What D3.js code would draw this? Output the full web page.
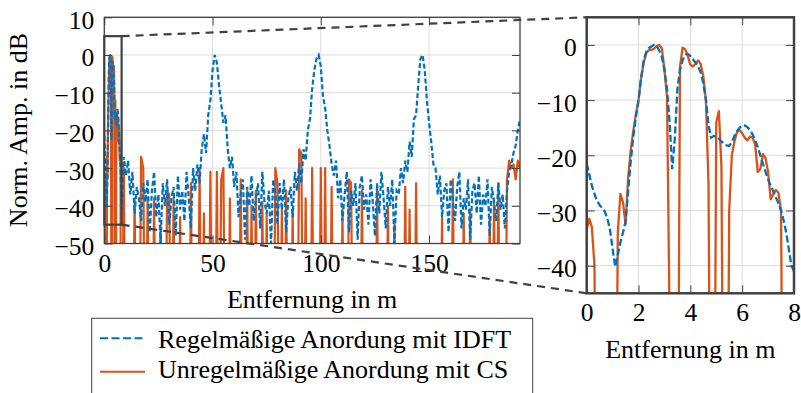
<!DOCTYPE html>
<html>
<head>
<meta charset="utf-8">
<title>Entfernungsprofil</title>
<script src="https://cdn.jsdelivr.net/npm/d3@7"></script>
<style>
  body { margin: 0; background: #fff; }
  svg text { font-family: "Liberation Serif", serif; }
</style>
</head>
<body>
<script>
// Detailansicht 0..8 m, Abtastung 0,1 m
var zoomDist = d3.range(81).map(function(i) { return i / 10; });
var zoomIdft = [
  -21.5, -23.5, -25.5, -27, -28.3, -29, -29.6, -30.2, -31.5, -33.5,
  -37, -40.2, -38, -35.8, -34, -32, -26.5, -21, -16.5, -13,
  -10, -6, -2.8, -1.2, -0.6, -0.3, 0, -0.2, -1, -2.2,
  -4.5, -8, -14, -22.5, -17, -8, -4.5, -2.8, -1.8, -1.6,
  -2, -2.6, -3.2, -3.9, -5, -7, -10, -14.5, -16.8, -16.5,
  -16.6, -17, -17.5, -17.9, -18.2, -18.3, -17.6, -16.5, -15.6, -15,
  -14.6, -14.6, -14.9, -15.4, -16.2, -17.2, -18.5, -20, -21.5, -23,
  -24.4, -25.5, -26.5, -27.6, -28.7, -30, -31.8, -34, -37, -40,
  -41
];
// -100 = Amplitude null (unterhalb der Achse)
var zoomCs = [
  -33.5, -31.5, -33, -40, -100, -100, -100, -100, -100, -100,
  -100, -100, -34, -27, -28.5, -32.5, -24, -19, -15.5, -12.5,
  -10, -6, -3.2, -1.5, -0.9, -0.9, -0.7, -0.2, 0, -0.6,
  -4.5, -9.5, -50, -100, -100, -100, -4, -0.5, -0.8, -2,
  -3.6, -3.9, -3.4, -2.8, -3.5, -5.7, -10, -25, -100, -100,
  -14, -12, -22, -100, -100, -30, -20, -17.5, -15.8, -15.4,
  -16, -16.8, -17.3, -16.6, -16.8, -18, -23, -22.5, -19.8, -20.5,
  -23, -28, -27, -26.3, -26.8, -30, -100, -100, -100, -100,
  -100
];

// Gesamtbereich ab 9 m, Abtastung 1 m
var farDist = d3.range(9, 193);
var farIdft = [
  -27, -32, -28, -37, -31, -42, -35, -38, -44, -34,
  -39, -33, -47, -36, -31, -43, -37, -50, -34, -40,
  -33, -45, -38, -35, -48, -32, -41, -36, -44, -31,
  -38, -46, -30, -36, -29, -34, -25, -21, -26, -16,
  -12, -4, 0, -2, -8, -13, -18, -16, -25, -30,
  -27, -35, -31, -43, -37, -33, -49, -35, -40, -32,
  -44, -38, -34, -46, -31, -39, -42, -36, -50, -33,
  -37, -45, -34, -41, -33, -47, -38, -35, -43, -31,
  -36, -29, -34, -25, -28, -20, -17, -9, -4, -1,
  0, -3, -11, -14, -20, -24, -29, -32, -28, -38,
  -33, -44, -37, -31, -47, -36, -40, -34, -49, -35,
  -32, -41, -37, -45, -33, -39, -48, -34, -42, -31,
  -38, -46, -35, -40, -33, -50, -36, -37, -30, -34,
  -28, -31, -23, -27, -17, -16, -8, -1, 0, -4,
  -12, -18, -23, -29, -30, -37, -32, -43, -36, -34,
  -47, -33, -39, -44, -35, -31, -46, -38, -41, -33,
  -49, -36, -34, -42, -32, -45, -37, -40, -33, -48,
  -35, -39, -44, -34, -41, -37, -46, -36, -31, -29,
  -26, -24, -20, -17
];
var farCs = [
  -30, -100, -100, -100, -100, -38, -100, -100, -27, -30,
  -100, -38, -100, -100, -38, -100, -100, -45, -100, -100,
  -36, -37, -100, -38, -100, -100, -43, -100, -100, -100,
  -100, -34, -100, -100, -100, -30, -100, -42, -100, -100,
  -31, -100, -100, -31, -100, -33, -30, -100, -100, -38,
  -100, -100, -100, -100, -33, -100, -100, -36, -100, -40,
  -100, -36, -100, -100, -39, -100, -42, -100, -100, -100,
  -30, -34, -100, -41, -100, -36, -100, -100, -41, -100,
  -100, -25, -26, -100, -38, -100, -100, -30, -100, -100,
  -100, -30, -100, -30, -100, -100, -35, -100, -100, -100,
  -100, -41, -100, -100, -33, -34, -100, -100, -100, -100,
  -36, -100, -100, -100, -100, -100, -100, -36, -100, -100,
  -100, -100, -40, -100, -100, -44, -100, -100, -100, -100,
  -35, -100, -41, -100, -100, -34, -100, -100, -100, -100,
  -100, -100, -100, -100, -100, -100, -100, -43, -100, -100,
  -100, -100, -33, -100, -100, -100, -100, -42, -100, -100,
  -41, -100, -100, -100, -100, -100, -100, -100, -100, -43,
  -100, -38, -100, -34, -100, -100, -100, -33, -28, -30,
  -29, -33, -28, -30
];

var xTicksLeft = [0, 50, 100, 150];
var yTicksLeft = [10, 0, -10, -20, -30, -40, -50];
var xTicksRight = [0, 2, 4, 6, 8];
var yTicksRight = [0, -10, -20, -30, -40];
var zoomWindowX = [0, 8];
var zoomWindowY = [-45, 5];
var legendLabels = ["Regelmäßige Anordung mit IDFT", "Unregelmäßige Anordung mit CS"];

var blue = "#0072BD";
var orange = "#D95319";
var serif = "'Liberation Serif', serif";
var w = 801;
var h = 393;

var svg = d3.select("body")
  .append("svg")
  .attr("width", w)
  .attr("height", h);

// Skalen
var xL = d3.scaleLinear().domain([0, 192]).range([104.3, 520]);
var yL = d3.scaleLinear().domain([-50, 10]).range([243.5, 17.3]);
var xR = d3.scaleLinear().domain(zoomWindowX).range([586.7, 794]);
var yR = d3.scaleLinear().domain(zoomWindowY).range([293.3, 17.3]);

var leftDist = zoomDist.concat(farDist);
var leftIdft = zoomIdft.concat(farIdft);
var leftCs = zoomCs.concat(farCs);

function toPoints(xs, ys) {
  return xs.map(function(x, i) { return { x: x, y: ys[i] }; });
}

// Minuszeichen wie im Original (U+2212)
function fmt(d) { return d < 0 ? "\u2212" + Math.abs(d) : String(d); }

function drawPanel(id, xs, ys, xt, yt, lw, dash, border, series) {
  var x0 = xs.range()[0], x1 = xs.range()[1];
  var y0 = ys.range()[1], y1 = ys.range()[0];

  svg.append("clipPath").attr("id", id)
    .append("rect")
    .attr("x", x0).attr("y", y0)
    .attr("width", x1 - x0).attr("height", y1 - y0);

  // Gitter
  var grid = svg.append("g");
  grid.selectAll(".gx").data(xt).enter().append("line")
    .attr("x1", function(d) { return xs(d); })
    .attr("x2", function(d) { return xs(d); })
    .attr("y1", y0).attr("y2", y1)
    .attr("stroke", "#dcdcdc").attr("stroke-width", 1);
  grid.selectAll(".gy").data(yt).enter().append("line")
    .attr("x1", x0).attr("x2", x1)
    .attr("y1", function(d) { return ys(d); })
    .attr("y2", function(d) { return ys(d); })
    .attr("stroke", "#dcdcdc").attr("stroke-width", 1);

  var line = d3.line()
    .x(function(d) { return xs(d.x); })
    .y(function(d) { return ys(d.y); });

  var plot = svg.append("g").attr("clip-path", "url(#" + id + ")");
  plot.append("path")
    .attr("d", line(series.cs))
    .attr("fill", "none")
    .attr("stroke", orange)
    .attr("stroke-width", lw)
    .attr("stroke-linejoin", "round");
  plot.append("path")
    .attr("d", line(series.idft))
    .attr("fill", "none")
    .attr("stroke", blue)
    .attr("stroke-width", lw)
    .attr("stroke-dasharray", dash);

  // Achsen (Ticks nach innen)
  var axes = [
    { a: d3.axisBottom(xs).tickValues(xt).tickFormat(fmt), t: "translate(0," + y1 + ")", lab: "b" },
    { a: d3.axisLeft(ys).tickValues(yt).tickFormat(fmt), t: "translate(" + x0 + ",0)", lab: "l" },
    { a: d3.axisTop(xs).tickValues(xt).tickFormat(""), t: "translate(0," + y0 + ")" },
    { a: d3.axisRight(ys).tickValues(yt).tickFormat(""), t: "translate(" + x1 + ",0)" }
  ];
  axes.forEach(function(ax) {
    var g = svg.append("g")
      .attr("transform", ax.t)
      .call(ax.a.tickSizeInner(-8).tickSizeOuter(0).tickPadding(10));
    g.select(".domain").remove();
    g.attr("color", "#404040");
    g.selectAll("text")
      .attr("fill", "#000")
      .style("font-family", serif)
      .style("font-size", "25.5px");
    if (ax.lab === "l") g.selectAll("text").attr("dy", "0.43em");
  });

  svg.append("rect")
    .attr("x", x0).attr("y", y0)
    .attr("width", x1 - x0).attr("height", y1 - y0)
    .attr("fill", "none")
    .attr("stroke", "#404040")
    .attr("stroke-width", border);
}

drawPanel("clipL", xL, yL, xTicksLeft, yTicksLeft, 2.2, "5,2.5", 1.3, {
  idft: toPoints(leftDist, leftIdft),
  cs: toPoints(leftDist, leftCs)
});
drawPanel("clipR", xR, yR, xTicksRight, yTicksRight, 2.3, "7,3", 2.5, {
  idft: toPoints(zoomDist, zoomIdft),
  cs: toPoints(zoomDist, zoomCs)
});

// Zoom-Rahmen und Verbindungslinien
svg.append("rect")
  .attr("x", xL(zoomWindowX[0]))
  .attr("y", yL(zoomWindowY[1]))
  .attr("width", xL(zoomWindowX[1]) - xL(zoomWindowX[0]))
  .attr("height", yL(zoomWindowY[0]) - yL(zoomWindowY[1]))
  .attr("fill", "none")
  .attr("stroke", "#404040")
  .attr("stroke-width", 2.2);

zoomWindowY.forEach(function(v) {
  svg.append("line")
    .attr("x1", xL(zoomWindowX[1])).attr("y1", yL(v))
    .attr("x2", xR(zoomWindowX[0])).attr("y2", yR(v))
    .attr("stroke", "#404040")
    .attr("stroke-width", 2.2)
    .attr("stroke-dasharray", "8,6");
});

// Achsenbeschriftungen
svg.append("text")
  .text("Entfernung in m")
  .attr("x", (xL.range()[0] + xL.range()[1]) / 2)
  .attr("y", 308)
  .attr("text-anchor", "middle")
  .style("font-size", "26px");
svg.append("text")
  .text("Entfernung in m")
  .attr("x", (xR.range()[0] + xR.range()[1]) / 2)
  .attr("y", 358)
  .attr("text-anchor", "middle")
  .style("font-size", "26px");
svg.append("text")
  .text("Norm. Amp. in dB")
  .attr("transform", "translate(27,130) rotate(-90)")
  .attr("text-anchor", "middle")
  .style("font-size", "26px");

// Legende
svg.append("rect")
  .attr("x", 91.7).attr("y", 318.3)
  .attr("width", 441).attr("height", 90)
  .attr("fill", "#fff")
  .attr("stroke", "#404040")
  .attr("stroke-width", 1);
var legColors = [blue, orange];
var legDash = ["8,3.5", null];
for (var i = 0; i < legendLabels.length; i++) {
  svg.append("line")
    .attr("x1", 100).attr("x2", 145)
    .attr("y1", 338.3 + i * 33.4).attr("y2", 338.3 + i * 33.4)
    .attr("stroke", legColors[i])
    .attr("stroke-width", 2)
    .attr("stroke-dasharray", legDash[i]);
  svg.append("text")
    .text(legendLabels[i])
    .attr("x", 158)
    .attr("y", 348.3 + i * 30)
    .style("font-size", "26px")
    .attr("fill", "#000");
}
</script>
</body>
</html>
